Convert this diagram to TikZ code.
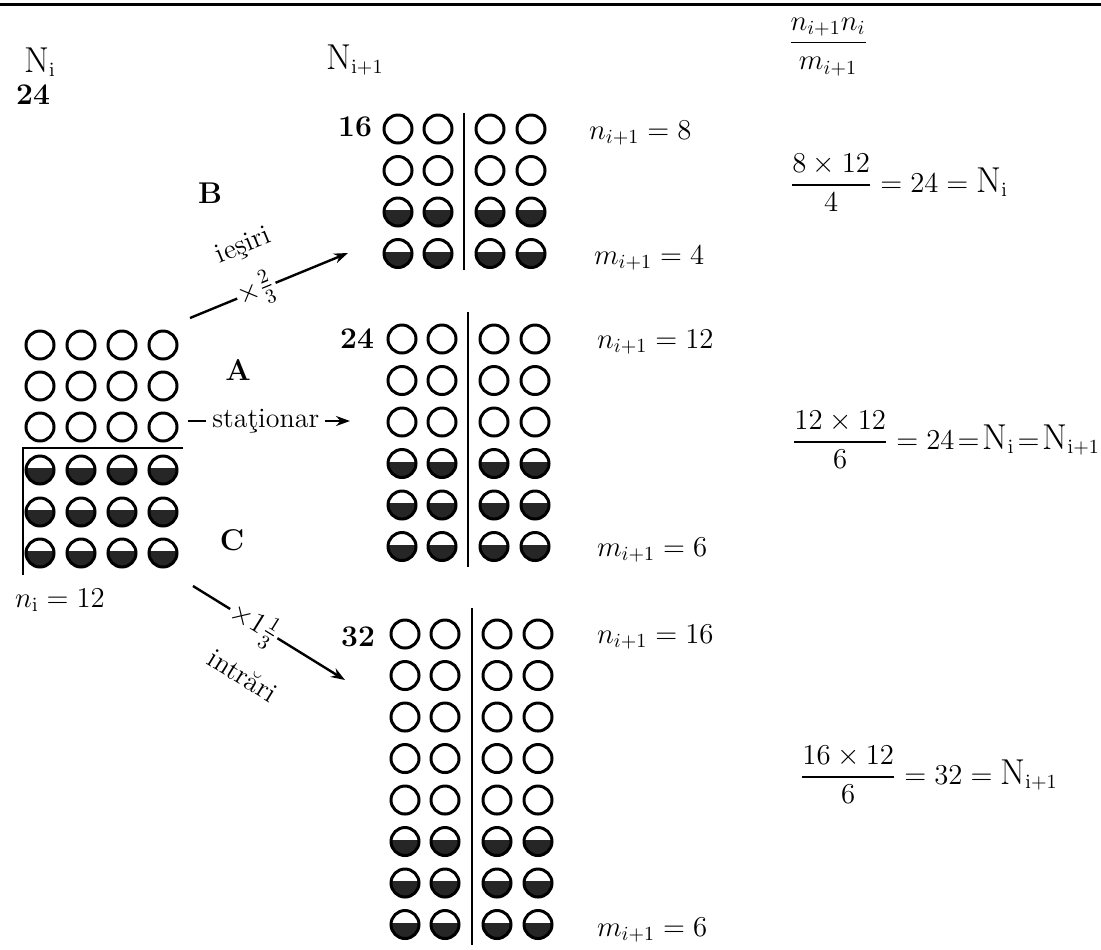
\documentclass[tikz,border=0pt]{standalone}
\usepackage{amsmath}
\usepackage{tikz}
\usetikzlibrary{arrows.meta}

\newcommand{\bigN}{\mbox{\fontsize{18}{18}\selectfont N}}

\tikzset{
  ring/.style={circle, draw, line width=1.5pt, minimum size=14pt, inner sep=0pt},
  halfring/.style={ring, path picture={
      \fill[black!85] (path picture bounding box.south west) rectangle ([yshift=0.8pt]path picture bounding box.east);}},
  num/.style={font=\fontsize{15}{15}\selectfont\bfseries},
  txt/.style={font=\fontsize{14}{16}\selectfont},
  divider/.style={line width=1.4pt},
  flow/.style={line width=1.2pt, -{Stealth[length=7pt, width=5pt]}},
}

\begin{document}
\begin{tikzpicture}[x=0.5pt, y=-0.5pt]
  \useasboundingbox (0,0) rectangle (1101,949);
  \draw[line width=1.5pt] (0,4) -- (1101,4);

  % column heads
  \node[txt] (Ni)    at (40,62)  {$\bigN_{\mathrm{i}}$};
  \node[num] (Nival) at (33,95)  {24};
  \node[txt] (Nnext) at (355,60) {$\bigN_{\mathrm{i+1}}$};
  \node[txt] (head)  at (828,47) {$\dfrac{n_{i+1}n_i}{m_{i+1}}$};

  % starting population
  \foreach \c/\x in {1/40,2/81,3/122,4/163}{
    \foreach \r/\y in {1/345,2/386,3/427}
      \node[ring] (L-\r-\c) at (\x,\y) {};
    \foreach \r/\y in {4/470,5/512,6/553}
      \node[halfring] (L-\r-\c) at (\x,\y) {};
  }
  \coordinate (Lcorner) at (23,448);
  \draw[divider] (183,448) -- (Lcorner) -- (23,575);
  \node[txt] (ni) at (60,600) {$n_{\mathrm{i}} = 12$};

  % next generation: B, A, C
  \foreach \g/\left/\top/\ne/\nr in {B/398/129/2/4, A/402/339/3/6, C/405/634/5/8}{
    \pgfmathtruncatemacro\first{\ne+1}
    \foreach \c/\dx in {1/0,2/40,3/92,4/133}{
      \foreach \r in {1,...,\ne}
        \node[ring] (\g-\r-\c) at (\left+\dx, \top+41.5*\r-41.5) {};
      \foreach \r in {\first,...,\nr}
        \node[halfring] (\g-\r-\c) at (\left+\dx, \top+41.5*\r-41.5) {};
    }
  }
  \coordinate (Btop) at (464,113); \coordinate (Bbot) at (464,270);
  \coordinate (Atop) at (468,312); \coordinate (Abot) at (468,567);
  \coordinate (Ctop) at (472,608); \coordinate (Cbot) at (472,945);
  \draw[divider] (Btop) -- (Bbot);
  \draw[divider] (Atop) -- (Abot);
  \draw[divider] (Ctop) -- (Cbot);

  \node[num] (Bsum) at (355,127) {16};
  \node[num] (Asum) at (357,339) {24};
  \node[num] (Csum) at (358,637) {32};

  \node[txt, anchor=west] (Bn) at (582,133) {$n_{i+1} = 8$};
  \node[txt, anchor=west] (Bm) at (587,258) {$m_{i+1} = 4$};
  \node[txt, anchor=west] (An) at (590,342) {$n_{i+1} = 12$};
  \node[txt, anchor=west] (Am) at (590,550) {$m_{i+1} = 6$};
  \node[txt, anchor=west] (Cn) at (590,637) {$n_{i+1} = 16$};
  \node[txt, anchor=west] (Cm) at (590,930) {$m_{i+1} = 6$};

  \node[num] (labB) at (210,193) {B};
  \node[num] (labA) at (238,370) {A};
  \node[num] (labC) at (232,540) {C};

  % transitions
  \coordinate (Bfrom) at (190,318); \coordinate (Bto) at (348,253);
  \coordinate (Afrom) at (188,421); \coordinate (Ato) at (350,421);
  \coordinate (Cfrom) at (193,586); \coordinate (Cto) at (345,680);
  \draw[flow] (Bfrom) -- node[txt, pos=0.42, sloped, fill=white, inner sep=1pt] {$\times\frac{2}{3}$}
                         node[txt, pos=0.45, sloped, above=13pt] {ieşiri} (Bto);
  \draw[flow] (Afrom) -- node[txt, pos=0.48, fill=white, inner sep=3pt] {staţionar} (Ato);
  \draw[flow] (Cfrom) -- node[txt, pos=0.4, sloped, fill=white, inner sep=1pt] {$\times1\frac{1}{3}$}
                         node[txt, pos=0.5, sloped, below=16pt] {intrări} (Cto);

  % check of the totals
  \node[txt, anchor=west] (Bcalc) at (783,183) {$\dfrac{8\times12}{4} = 24 = \bigN_{\mathrm{i}}$};
  \node[txt, anchor=west] (Acalc) at (785,440) {$\dfrac{12\times12}{6} = 24 \!=\! \bigN_{\mathrm{i}} \!=\! \bigN_{\mathrm{i+1}}$};
  \node[txt, anchor=west] (Ccalc) at (793,775) {$\dfrac{16\times12}{6} = 32 = \bigN_{\mathrm{i+1}}$};
\end{tikzpicture}
\end{document}
